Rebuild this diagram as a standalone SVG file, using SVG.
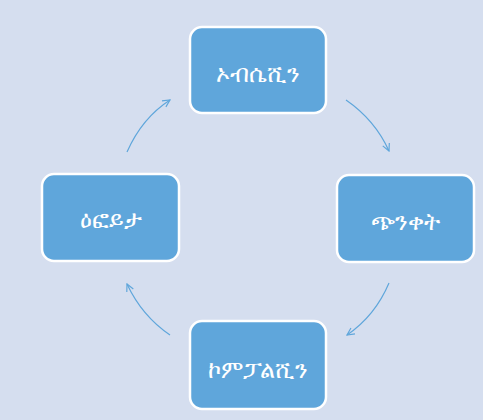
<svg xmlns="http://www.w3.org/2000/svg" width="483" height="420" viewBox="0 0 483 420">
<defs>
<style>
.box{fill:#5FA6DB;stroke:#FFFFFF;stroke-width:2.5}
.lbl{fill:#FFFFFF;font-family:"Noto Sans","DejaVu Sans",sans-serif;font-size:24px;text-anchor:middle;dominant-baseline:central}
.con{fill:none;stroke:#5FA6DB;stroke-width:1.2}
</style>
<marker id="ah" viewBox="0 0 10 10" refX="9" refY="5" markerWidth="9" markerHeight="9" markerUnits="userSpaceOnUse" orient="auto">
<path d="M1,1 L9,5 L1,9" fill="none" stroke="#5FA6DB" stroke-width="1.3"/>
</marker>
</defs>
<rect width="483" height="420" fill="#D5DEEF"/>
<g id="connectors">
<path class="con" d="M127,152 Q142,118 170,100" marker-end="url(#ah)"/>
<path class="con" d="M346,100 Q375,120 389,151" marker-end="url(#ah)"/>
<path class="con" d="M389,283 Q375,316 347,335" marker-end="url(#ah)"/>
<path class="con" d="M170,335 Q142,316 127,284" marker-end="url(#ah)"/>
</g>
<g id="node-top">
<rect class="box" x="190" y="27" width="136" height="86" rx="12"/>
<text class="lbl" x="258" y="72">ኦብሴሺን</text>
</g>
<g id="node-right">
<rect class="box" x="337" y="175" width="137" height="87" rx="12"/>
<text class="lbl" x="405.5" y="220">ጭንቀት</text>
</g>
<g id="node-bottom">
<rect class="box" x="190" y="321" width="136" height="88" rx="12"/>
<text class="lbl" x="258" y="368">ኮምፓልሺን</text>
</g>
<g id="node-left">
<rect class="box" x="42" y="174" width="137" height="87" rx="12"/>
<text class="lbl" x="110.5" y="218">ዕፎይታ</text>
</g>
</svg>
